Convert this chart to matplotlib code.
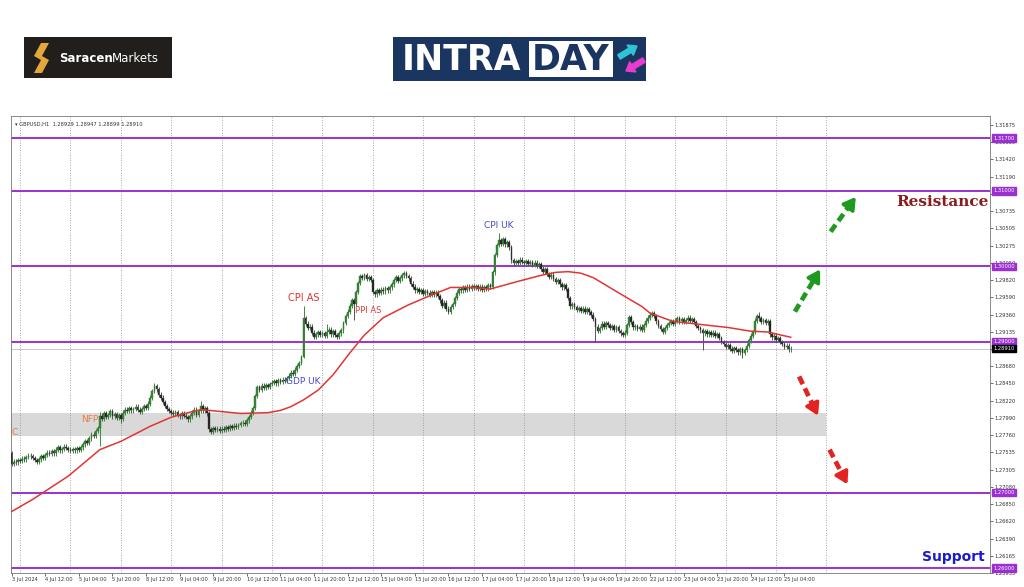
import numpy as np
import matplotlib
matplotlib.use("Agg")
import matplotlib.pyplot as plt
from matplotlib.patches import Rectangle, Polygon, FancyArrow
from matplotlib.transforms import blended_transform_factory

# ==========================================
# GBPUSD H1 closes
# ==========================================
first_open = 1.2752
close_jul03 = [1.2738, 1.2741, 1.2740, 1.2743]
close_jul04 = [1.2742, 1.2745, 1.2744, 1.2747, 1.2749, 1.2748, 1.2746, 1.2743, 1.2741, 1.2744, 1.2748, 1.2746,
               1.2750, 1.2753, 1.2751, 1.2755, 1.2752, 1.2757, 1.2760, 1.2756, 1.2758, 1.2761, 1.2759, 1.2757]
close_jul05 = [1.2755, 1.2758, 1.2756, 1.2759, 1.2757, 1.2760, 1.2764, 1.2768, 1.2766, 1.2772, 1.2777, 1.2775,
               1.2782, 1.2786, 1.2802, 1.2798, 1.2805, 1.2800, 1.2803, 1.2808, 1.2801, 1.2804, 1.2799, 1.2803]
close_jul08 = [1.2798, 1.2806, 1.2810, 1.2808, 1.2812, 1.2809, 1.2811, 1.2814, 1.2810, 1.2807, 1.2811, 1.2815,
               1.2812, 1.2818, 1.2826, 1.2835, 1.2841, 1.2837, 1.2830, 1.2826, 1.2820, 1.2815, 1.2811, 1.2808]
close_jul09 = [1.2806, 1.2804, 1.2807, 1.2803, 1.2801, 1.2805, 1.2802, 1.2800, 1.2797, 1.2801, 1.2806, 1.2810,
               1.2803, 1.2808, 1.2815, 1.2809, 1.2812, 1.2805, 1.2784, 1.2781, 1.2786, 1.2783, 1.2785, 1.2782]
close_jul10 = [1.2785, 1.2783, 1.2787, 1.2785, 1.2788, 1.2786, 1.2789, 1.2787, 1.2790, 1.2792, 1.2793, 1.2791,
               1.2796, 1.2800, 1.2806, 1.2812, 1.2828, 1.2840, 1.2836, 1.2842, 1.2839, 1.2843, 1.2840, 1.2844]
close_jul11 = [1.2846, 1.2848, 1.2845, 1.2849, 1.2847, 1.2850, 1.2848, 1.2852, 1.2855, 1.2859, 1.2857, 1.2863,
               1.2868, 1.2872, 1.2880, 1.2931, 1.2924, 1.2918, 1.2920, 1.2912, 1.2907, 1.2910, 1.2913, 1.2909]
close_jul12 = [1.2911, 1.2908, 1.2913, 1.2916, 1.2910, 1.2914, 1.2909, 1.2907, 1.2911, 1.2915, 1.2925, 1.2934,
               1.2940, 1.2948, 1.2955, 1.2950, 1.2966, 1.2978, 1.2987, 1.2985, 1.2988, 1.2983, 1.2986, 1.2982]
close_jul15 = [1.2966, 1.2963, 1.2968, 1.2965, 1.2969, 1.2967, 1.2971, 1.2968, 1.2972, 1.2976, 1.2982, 1.2986,
               1.2981, 1.2984, 1.2988, 1.2991, 1.2987, 1.2984, 1.2977, 1.2973, 1.2968, 1.2970, 1.2966, 1.2968]
close_jul16 = [1.2964, 1.2967, 1.2965, 1.2962, 1.2966, 1.2963, 1.2965, 1.2961, 1.2955, 1.2948, 1.2952, 1.2944,
               1.2940, 1.2946, 1.2950, 1.2958, 1.2965, 1.2970, 1.2968, 1.2972, 1.2969, 1.2973, 1.2970, 1.2974]
close_jul17 = [1.2971, 1.2974, 1.2970, 1.2973, 1.2969, 1.2972, 1.2970, 1.2975, 1.2973, 1.2992, 1.3015, 1.3028,
               1.3035, 1.3030, 1.3036, 1.3029, 1.3032, 1.3025, 1.3008, 1.3004, 1.3007, 1.3005, 1.3009, 1.3006]
close_jul18 = [1.3004, 1.3007, 1.3003, 1.3006, 1.3002, 1.3005, 1.3001, 1.3003, 1.2997, 1.2993, 1.2996, 1.2990,
               1.2986, 1.2989, 1.2983, 1.2979, 1.2982, 1.2976, 1.2972, 1.2975, 1.2970, 1.2958, 1.2947, 1.2950]
close_jul19 = [1.2946, 1.2942, 1.2945, 1.2941, 1.2944, 1.2940, 1.2943, 1.2939, 1.2936, 1.2930, 1.2920, 1.2914,
               1.2918, 1.2924, 1.2920, 1.2925, 1.2922, 1.2918, 1.2921, 1.2916, 1.2919, 1.2914, 1.2911, 1.2909]
close_jul22 = [1.2912, 1.2922, 1.2933, 1.2926, 1.2919, 1.2921, 1.2917, 1.2920, 1.2916, 1.2922, 1.2928, 1.2932,
               1.2936, 1.2938, 1.2934, 1.2927, 1.2921, 1.2917, 1.2913, 1.2918, 1.2922, 1.2925, 1.2927, 1.2924]
close_jul23 = [1.2928, 1.2931, 1.2927, 1.2930, 1.2926, 1.2929, 1.2932, 1.2928, 1.2930, 1.2926, 1.2921, 1.2918,
               1.2915, 1.2911, 1.2914, 1.2910, 1.2913, 1.2909, 1.2912, 1.2908, 1.2910, 1.2905, 1.2900, 1.2897]
close_jul24 = [1.2893, 1.2896, 1.2891, 1.2888, 1.2892, 1.2889, 1.2886, 1.2890, 1.2885, 1.2889, 1.2895, 1.2902,
               1.2908, 1.2913, 1.2928, 1.2934, 1.2931, 1.2926, 1.2929, 1.2925, 1.2927, 1.2910, 1.2906, 1.2908]
close_jul25 = [1.2903, 1.2905, 1.2900, 1.2897, 1.2893, 1.2895, 1.2890, 1.2891]

# long wicks (news spikes)
high_bars = [42, 68, 90, 139, 150, 232, 356]
high_vals = [1.2807, 1.2845, 1.2821, 1.2947, 1.2924, 1.3044, 1.2940]
low_bars = [42, 52, 139, 163, 278, 329, 348]
low_vals = [1.2762, 1.2793, 1.2878, 1.2929, 1.2900, 1.2889, 1.2878]

# red moving average
ma_bars = [0, 10, 27, 42, 52, 66, 76, 84, 90, 98, 109, 122, 128, 133, 139, 146, 153, 161, 168, 177, 189,
           200, 209, 219, 228, 241, 252, 259, 265, 271, 277, 289, 300, 304, 315, 328, 341, 352, 360, 371]
ma_vals = [1.2675, 1.2691, 1.2722, 1.2757, 1.2768, 1.2788, 1.2800, 1.2806, 1.2810, 1.2808, 1.2805, 1.2806,
           1.2809, 1.2814, 1.2823, 1.2836, 1.2856, 1.2885, 1.2909, 1.2932, 1.2949, 1.2962, 1.2972, 1.2972,
           1.2970, 1.2980, 1.2988, 1.2992, 1.2993, 1.2991, 1.2985, 1.2965, 1.2947, 1.2938, 1.2927, 1.2923,
           1.2919, 1.2914, 1.2913, 1.2906]

levels = [1.31700, 1.31000, 1.30000, 1.29000, 1.27000, 1.26000]
last_price = 1.28910
zone_low, zone_high = 1.2775, 1.2805

ytick_vals = [1.31875, 1.31650, 1.31420, 1.31190, 1.30960, 1.30735, 1.30505, 1.30275, 1.30050,
              1.29820, 1.29590, 1.29360, 1.29135, 1.28905, 1.28680, 1.28450, 1.28220, 1.27990,
              1.27760, 1.27535, 1.27305, 1.27080, 1.26850, 1.26620, 1.26390, 1.26165, 1.25935]
xtick_labels = ['3 Jul 2024', '4 Jul 12:00', '5 Jul 04:00', '5 Jul 20:00', '8 Jul 12:00', '9 Jul 04:00',
                '9 Jul 20:00', '10 Jul 12:00', '11 Jul 04:00', '11 Jul 20:00', '12 Jul 12:00', '15 Jul 04:00',
                '15 Jul 20:00', '16 Jul 12:00', '17 Jul 04:00', '17 Jul 20:00', '18 Jul 12:00', '19 Jul 04:00',
                '19 Jul 20:00', '22 Jul 12:00', '23 Jul 04:00', '23 Jul 20:00', '24 Jul 12:00', '25 Jul 04:00']

# event labels: text, bar, price, colour
event_text = ['CPI AS', 'PPI AS', 'GDP UK', 'CPI UK', 'NFP', 'C']
event_bar = [139, 170, 139, 232, 37, 1.5]
event_price = [1.2958, 1.2942, 1.2847, 1.3054, 1.2797, 1.2780]
event_color = ['#e03232', '#e03c3c', '#4848d0', '#4848d0', '#f07a48', '#f07a48']
event_size = [7, 6, 6.5, 6.5, 6.5, 6.5]

# scenario arrows (bar, price) -> (bar, price)
arrow_x0 = [390, 373, 375, 389.5]
arrow_y0 = [1.3046, 1.2940, 1.2854, 1.2757]
arrow_x1 = [402, 385, 384, 398]
arrow_y1 = [1.3092, 1.2996, 1.2802, 1.2711]
arrow_col = ['#1f9a1f', '#1f9a1f', '#e42222', '#e42222']

PURPLE = '#9b30d0'
BULL = '#3a8a3a'
BEAR = '#1f1f1f'
WICK = 0.0003

day_lists = [close_jul03, close_jul04, close_jul05, close_jul08, close_jul09, close_jul10, close_jul11,
             close_jul12, close_jul15, close_jul16, close_jul17, close_jul18, close_jul19, close_jul22,
             close_jul23, close_jul24, close_jul25]
closes = np.concatenate(day_lists)
opens = np.r_[first_open, closes[:-1]]
highs = np.maximum(opens, closes) + WICK
lows = np.minimum(opens, closes) - WICK
highs[high_bars] = high_vals
lows[low_bars] = low_vals
bx = np.arange(len(closes))
up = closes >= opens

day_starts = np.cumsum([0] + [len(d) for d in day_lists])[:-1]
grid_x = list(day_starts[1:]) + [day_starts[-1] + 24]
xtick_pos = [0] + [16 * (k + 1) for k in range(len(xtick_labels) - 1)]

# ==========================================
# figure
# ==========================================
W, H = 1024, 587
fig = plt.figure(figsize=(W / 100, H / 100), dpi=100)
fig.patch.set_facecolor('white')
ax = fig.add_axes([11 / W, (H - 573) / H, (990 - 11) / W, (573 - 116) / H])
ax.set_xlim(-0.3, 465.9)
ax.set_ylim(1.25947, 1.31993)

for g in grid_x:
    ax.axvline(g, color='#8c8c8c', lw=0.6, ls=(0, (1, 2)), zorder=1)

ax.add_patch(Rectangle((-0.3, zone_low), grid_x[-1] + 0.3, zone_high - zone_low,
                       facecolor='#d9d9d9', edgecolor='none', zorder=0.5))

for lv in levels:
    ax.axhline(lv, color=PURPLE, lw=1.4, zorder=2)
ax.axhline(last_price, color='#c8c8c8', lw=0.7, zorder=1.5)

# candles
ax.vlines(bx[up], lows[up], highs[up], color=BULL, lw=0.7, zorder=3)
ax.vlines(bx[~up], lows[~up], highs[~up], color='#555555', lw=0.7, zorder=3)
ax.bar(bx[up], (closes - opens)[up], bottom=opens[up], width=0.8, color=BULL,
       edgecolor='#2a6a2a', linewidth=0.3, zorder=4)
ax.bar(bx[~up], (closes - opens)[~up], bottom=opens[~up], width=0.8, color=BEAR,
       edgecolor='#444444', linewidth=0.3, zorder=4)

ax.plot(ma_bars, ma_vals, color='#e33434', lw=1.1, zorder=5)

for t, xb, yp, c, s in zip(event_text, event_bar, event_price, event_color, event_size):
    ax.text(xb, yp, t, color=c, fontsize=s, ha='center', va='center', zorder=6)

for x0, y0, x1, y1, c in zip(arrow_x0, arrow_y0, arrow_x1, arrow_y1, arrow_col):
    xm, ym = x0 + 0.75 * (x1 - x0), y0 + 0.75 * (y1 - y0)
    ax.plot([x0, xm], [y0, ym], color=c, lw=3.4, dashes=(1.8, 1.0),
            solid_capstyle='butt', dash_capstyle='butt', zorder=6)
    ax.annotate('', xy=(x1, y1), xytext=(xm, ym), zorder=6,
                arrowprops=dict(arrowstyle='-|>,head_length=0.7,head_width=0.42',
                                color=c, lw=2.6, shrinkA=0, shrinkB=0))

# axes cosmetics (MT4 look)
for sp in ax.spines.values():
    sp.set_color('#777777')
    sp.set_linewidth(0.6)
ax.yaxis.tick_right()
ax.set_yticks(ytick_vals)
ax.set_yticklabels([f'{v:.5f}' for v in ytick_vals])
ax.set_xticks(xtick_pos)
ax.set_xticklabels(xtick_labels, ha='left')
ax.tick_params(axis='both', labelsize=3.7, colors='#333333', length=2, width=0.5, pad=1.2)

tr = blended_transform_factory(ax.transAxes, ax.transData)
for lv in levels:
    ax.text(1.003, lv, f'{lv:.5f}', transform=tr, fontsize=3.7, color='white', ha='left', va='center',
            bbox=dict(boxstyle='square,pad=0.25', fc=PURPLE, ec=PURPLE), zorder=7, clip_on=False)
ax.text(1.003, last_price, f'{last_price:.5f}', transform=tr, fontsize=3.7, color='white', ha='left',
        va='center', bbox=dict(boxstyle='square,pad=0.25', fc='black', ec='black'), zorder=7, clip_on=False)

ax.text(0.004, 0.988, '\u25be GBPUSD,H1  1.28929 1.28947 1.28899 1.28910', transform=ax.transAxes,
        fontsize=3.7, color='#333333', ha='left', va='top')

# ==========================================
# overlay in pixel coordinates: logos and labels
# ==========================================
ov = fig.add_axes([0, 0, 1, 1], zorder=10)
ov.set_xlim(0, W)
ov.set_ylim(H, 0)
ov.axis('off')
ov.patch.set_alpha(0)

ov.add_patch(Rectangle((24, 37), 148, 41, facecolor='#211e1c', edgecolor='none'))
ov.add_patch(Polygon([(49, 43), (41, 43), (34, 56), (41, 60), (34, 73), (42, 73), (49, 60), (42, 56)],
                     closed=True, facecolor='#e4a73a', edgecolor='none'))
ov.text(59, 58, 'Saracen', color='white', fontsize=8.5, weight='bold', ha='left', va='center')
ov.text(112, 58, 'Markets', color='white', fontsize=8.5, ha='left', va='center')

ov.add_patch(Rectangle((393, 37), 253, 44, facecolor='#1b3561', edgecolor='none'))
ov.text(402, 60, 'INTRA', color='white', fontsize=25, weight='bold', ha='left', va='center')
ov.add_patch(Rectangle((529, 41), 84, 36, facecolor='white', edgecolor='none'))
ov.text(571, 60, 'DAY', color='#1b3561', fontsize=25, weight='bold', ha='center', va='center')
ov.add_patch(FancyArrow(619, 57, 18, -11, width=5, head_width=12, head_length=8,
                        length_includes_head=True, color='#2ec4d6'))
ov.add_patch(FancyArrow(644, 60, -18, 11, width=5, head_width=12, head_length=8,
                        length_includes_head=True, color='#e63cd0'))

ov.text(942, 202, 'Resistance', color='#8b1a1a', fontsize=11, family='DejaVu Serif',
        weight='bold', ha='center', va='center')
ov.text(953, 557, 'Support', color='#1a1ad0', fontsize=10, weight='bold', ha='center', va='center')

fig.savefig('out.png', dpi=100)
